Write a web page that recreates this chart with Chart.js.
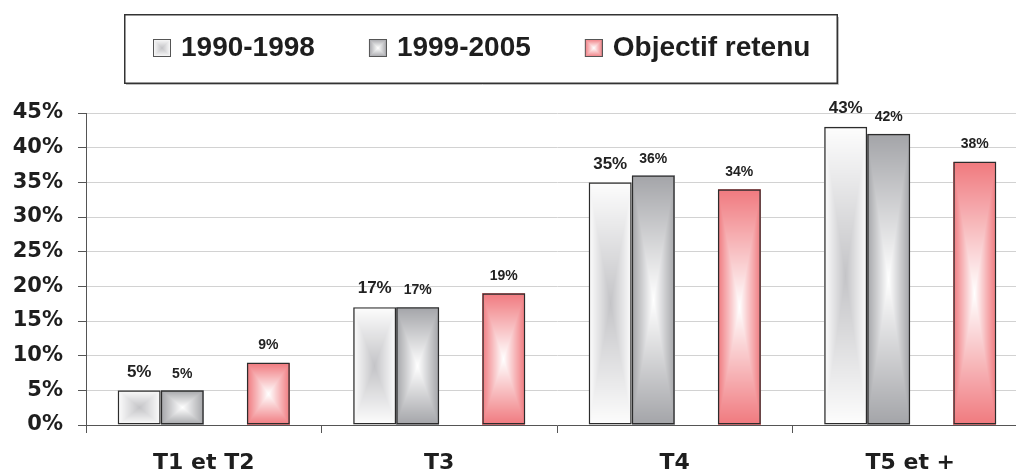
<!DOCTYPE html>
<html><head><meta charset="utf-8">
<script src="https://cdn.jsdelivr.net/npm/chart.js@4/dist/chart.umd.min.js"></script>
<style>
html,body{margin:0;padding:0;background:#fff;overflow:hidden;width:1016px;height:472px}
#wrap{position:relative;width:1016px;height:472px;overflow:hidden;background:#fff}
canvas{display:block}
</style></head>
<body><div id="wrap"><canvas id="c" width="1032" height="472"></canvas></div>
<script>
// ---- data ----
const categories = ['T1 et T2', 'T3', 'T4', 'T5 et +'];
const seriesNames = ['1990-1998', '1999-2005', 'Objectif retenu'];
const values1990 = [5, 17, 35, 43];
const values1999 = [5, 17, 36, 42];
const valuesObjectif = [9, 19, 34, 38];
const yMin = 0, yMax = 45, yStep = 5;

// ---- styles ----
const fills = {
  s1: {center: [196, 196, 199], edge: [253, 253, 253], labelSize: 17, labelGap: 18.5},
  s2: {center: [255, 255, 255], edge: [163, 164, 168], labelSize: 14, labelGap: 16.5},
  s3: {center: [255, 255, 255], edge: [240, 121, 126], labelSize: 14, labelGap: 17}
};

function gradCanvas(w, h, center, edge) {
  w = Math.max(1, w); h = Math.max(1, h);
  const c = document.createElement('canvas');
  c.width = w; c.height = h;
  const g = c.getContext('2d');
  const img = g.createImageData(w, h);
  for (let j = 0; j < h; j++) {
    for (let i = 0; i < w; i++) {
      const u = Math.abs(i + 0.5 - w / 2) / (w / 2);
      const v = Math.abs(j + 0.5 - h / 2) / (h / 2);
      const t = Math.min(1, Math.max(u, v));
      const k = (j * w + i) * 4;
      for (let ch = 0; ch < 3; ch++) img.data[k + ch] = Math.round(center[ch] + (edge[ch] - center[ch]) * t);
      img.data[k + 3] = 255;
    }
  }
  g.putImageData(img, 0, 0);
  return c;
}

function swatch(f) {
  const c = document.createElement('canvas');
  c.width = 26; c.height = 18;
  const g = c.getContext('2d');
  g.drawImage(gradCanvas(18, 18, f.center, f.edge), 8, 0);
  g.strokeStyle = '#555';
  g.lineWidth = 1;
  g.strokeRect(8.5, 0.5, 17, 17);
  return c;
}

const datasets = [
  {label: seriesNames[0], data: values1990, fill: fills.s1},
  {label: seriesNames[1], data: values1999, fill: fills.s2},
  {label: '', data: categories.map(() => null), fill: null},
  {label: seriesNames[2], data: valuesObjectif, fill: fills.s3}
].map(d => ({
  label: d.label, data: d.data, _fill: d.fill,
  backgroundColor: 'rgba(0,0,0,0)',
  borderColor: '#2c2c2c',
  borderWidth: 1.4,
  borderSkipped: false,
  categoryPercentage: 0.731,
  barPercentage: 1.0
}));

const gradientBars = {
  id: 'gradientBars',
  beforeDatasetsDraw(chart) {
    const ctx = chart.ctx;
    chart.data.datasets.forEach((ds, i) => {
      if (!ds._fill) return;
      chart.getDatasetMeta(i).data.forEach(el => {
        const p = el.getProps(['x', 'y', 'base', 'width'], true);
        if (!isFinite(p.y)) return;
        const l = Math.round(p.x - p.width / 2), r = Math.round(p.x + p.width / 2);
        const t = Math.round(Math.min(p.y, p.base)), b = Math.round(Math.max(p.y, p.base));
        ctx.drawImage(gradCanvas(r - l, b - t, ds._fill.center, ds._fill.edge), l, t);
      });
    });
  },
  afterDatasetsDraw(chart) {
    const ctx = chart.ctx;
    ctx.save();
    ctx.fillStyle = '#222';
    ctx.textAlign = 'center';
    ctx.textBaseline = 'middle';
    chart.data.datasets.forEach((ds, i) => {
      if (!ds._fill) return;
      ctx.font = 'bold ' + ds._fill.labelSize + 'px "Liberation Sans", Arial, sans-serif';
      chart.getDatasetMeta(i).data.forEach((el, k) => {
        const v = ds.data[k];
        if (v == null) return;
        const p = el.getProps(['x', 'y'], true);
        ctx.fillText(v + '%', p.x, p.y - ds._fill.labelGap);
      });
    });
    ctx.restore();
  }
};

const legendFrame = {
  id: 'legendFrame',
  afterLayout(chart) {
    const lg = chart.legend;
    lg.left = 99; lg.right = 1099; lg.top = -16;
  },
  afterDraw(chart) {
    const ctx = chart.ctx;
    ctx.save();
    ctx.strokeStyle = '#bdbdbd';
    ctx.lineWidth = 1;
    ctx.beginPath();
    ctx.moveTo(126, 84.5); ctx.lineTo(838.5, 84.5); ctx.lineTo(838.5, 17);
    ctx.stroke();
    ctx.strokeStyle = '#333';
    ctx.lineWidth = 1.5;
    ctx.strokeRect(124.75, 14.75, 712.5, 68.5);
    ctx.restore();
  }
};

const swatches = [swatch(fills.s1), swatch(fills.s2), null, swatch(fills.s3)];

new Chart(document.getElementById('c'), {
  type: 'bar',
  data: {labels: categories, datasets},
  plugins: [gradientBars, legendFrame],
  options: {
    responsive: false,
    animation: false,
    events: [],
    layout: {padding: {left: 0, right: 4, top: 25, bottom: 0}},
    plugins: {
      tooltip: {enabled: false},
      legend: {
        position: 'top',
        align: 'start',
        labels: {
          usePointStyle: true,
          boxWidth: 18,
          boxHeight: 18,
          padding: 50,
          color: '#1e1e1e',
          font: {family: '"Liberation Sans", Arial, sans-serif', weight: 'bold', size: 28},
          generateLabels(chart) {
            return chart.data.datasets.map((ds, i) => ({
              text: ds.label, datasetIndex: i, hidden: false,
              pointStyle: swatches[i], fillStyle: 'rgba(0,0,0,0)',
              strokeStyle: 'rgba(0,0,0,0)', lineWidth: 0, fontColor: '#1e1e1e'
            })).filter(l => l.text);
          }
        }
      }
    },
    scales: {
      x: {
        afterFit(s) { s.height = 47; },
        grid: {offset: true, drawOnChartArea: false, tickLength: 8, tickColor: '#555', lineWidth: 1},
        border: {color: '#555', width: 1},
        ticks: {padding: 17, color: '#1e1e1e',
          font: {family: '"DejaVu Sans", sans-serif', weight: 'bold', size: 22}}
      },
      y: {
        min: yMin, max: yMax,
        afterFit(s) { s.width = 86; },
        grid: {color: '#d2d2d2', tickColor: '#555', tickLength: 8, lineWidth: 1},
        border: {color: '#555', width: 1},
        ticks: {stepSize: yStep, padding: 15, color: '#1e1e1e',
          font: {family: '"DejaVu Sans", sans-serif', weight: 'bold', size: 21},
          callback: v => v + '%'}
      }
    }
  }
});
</script>
</body></html>
